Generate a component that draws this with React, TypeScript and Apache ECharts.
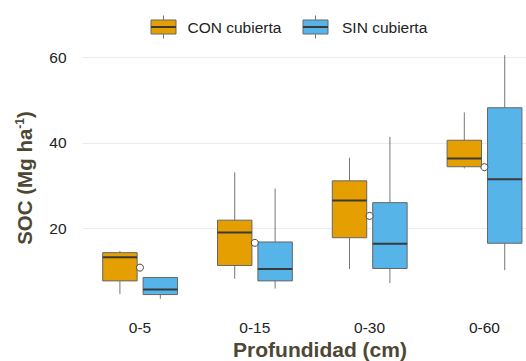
import React, { useEffect, useRef } from "react";
import * as echarts from "echarts";

const categories = ["0-5", "0-15", "0-30", "0-60"];
const conLow = [4.6, 8.2, 10.5, 34.0];
const conQ1 = [7.7, 11.3, 17.8, 34.4];
const conMed = [13.2, 19.0, 26.5, 36.3];
const conQ3 = [14.3, 21.9, 31.1, 40.6];
const conHigh = [14.7, 33.1, 36.5, 47.1];
const sinLow = [3.5, 5.9, 7.2, 10.2];
const sinQ1 = [4.5, 7.7, 10.6, 16.5];
const sinMed = [5.7, 10.5, 16.4, 31.5];
const sinQ3 = [8.5, 16.8, 26.0, 48.2];
const sinHigh = [8.5, 29.3, 41.4, 60.5];
const means = [10.8, 16.6, 22.9, 34.3];
const yTicks = [0, 20, 40, 60];
const seriesNames = ["CON cubierta", "SIN cubierta"];

const CON_COLOR = "#E69F00";
const SIN_COLOR = "#56B4E9";
const BORDER = "#666666";
const MEDIAN = "#3a3a3a";
const WHISKER = "#777777";
const TITLE_COLOR = "#4d4833";
const FONT = "'Liberation Sans', Arial, sans-serif";

function makeRender(color: string, offsetFrac: number, boxFrac: number) {
  return (params: any, api: any) => {
    const cat = api.value(0);
    const band = api.size([1, 0])[0];
    const cx = api.coord([cat, 0])[0] + offsetFrac * band;
    const half = (boxFrac * band) / 2;
    const yy = (i: number) => api.coord([cat, api.value(i)])[1];
    const yLow = yy(1), yQ1 = yy(2), yMed = yy(3), yQ3 = yy(4), yHigh = yy(5);
    return {
      type: "group",
      children: [
        { type: "line", shape: { x1: cx, y1: yHigh, x2: cx, y2: yQ3 }, style: { stroke: WHISKER, lineWidth: 1 } },
        { type: "line", shape: { x1: cx, y1: yQ1, x2: cx, y2: yLow }, style: { stroke: WHISKER, lineWidth: 1 } },
        {
          type: "rect",
          shape: { x: cx - half, y: yQ3, width: half * 2, height: yQ1 - yQ3 },
          style: { fill: color, stroke: BORDER, lineWidth: 1 },
        },
        {
          type: "line",
          shape: { x1: cx - half, y1: yMed, x2: cx + half, y2: yMed },
          style: { stroke: MEDIAN, lineWidth: 2 },
        },
      ],
    };
  };
}

function legendItem(x: number, textX: number, color: string, label: string) {
  const w = 25, top = 20, h = 14, cx = x + w / 2;
  return {
    type: "group",
    children: [
      { type: "line", shape: { x1: cx, y1: 15.5, x2: cx, y2: top }, style: { stroke: WHISKER, lineWidth: 1 } },
      { type: "line", shape: { x1: cx, y1: top + h, x2: cx, y2: 38.5 }, style: { stroke: WHISKER, lineWidth: 1 } },
      { type: "rect", shape: { x, y: top, width: w, height: h }, style: { fill: color, stroke: BORDER, lineWidth: 1 } },
      { type: "line", shape: { x1: x, y1: top + h / 2, x2: x + w, y2: top + h / 2 }, style: { stroke: MEDIAN, lineWidth: 2 } },
      {
        type: "text",
        x: textX,
        y: 27,
        style: { text: label, fill: "#222", font: `15.5px ${FONT}`, textAlign: "left", textVerticalAlign: "middle" },
      },
    ],
  };
}

export default function App() {
  const ref = useRef<HTMLDivElement>(null);
  useEffect(() => {
    if (!ref.current) return;
    const chart = echarts.init(ref.current, null, { renderer: "svg" });
    const conData = categories.map((_, i) => [i, conLow[i], conQ1[i], conMed[i], conQ3[i], conHigh[i]]);
    const sinData = categories.map((_, i) => [i, sinLow[i], sinQ1[i], sinMed[i], sinQ3[i], sinHigh[i]]);
    chart.setOption({
      animation: false,
      backgroundColor: "#ffffff",
      grid: { left: 82.6, right: -15.8, top: 57.3, bottom: 47.2, containLabel: false, outerBoundsMode: "none" },
      xAxis: {
        type: "category",
        data: categories,
        boundaryGap: true,
        axisLine: { show: false },
        axisTick: { show: false },
        axisLabel: { color: "#222", fontSize: 15.5, fontFamily: FONT, margin: 6, interval: 0 },
        splitLine: { show: false },
      },
      yAxis: {
        type: "value",
        min: yTicks[0],
        max: yTicks[yTicks.length - 1],
        interval: 20,
        axisLine: { show: false },
        axisTick: { show: false },
        axisLabel: { color: "#222", fontSize: 15.5, fontFamily: FONT, margin: 16, showMinLabel: false },
        splitLine: { show: true, showMinLine: false, lineStyle: { color: "#ececec", width: 1 } },
      },
      series: [
        {
          name: seriesNames[0],
          type: "custom",
          data: conData,
          encode: { x: 0, y: [1, 2, 3, 4, 5] },
          renderItem: makeRender(CON_COLOR, -0.175, 0.3),
          clip: false,
          z: 2,
        },
        {
          name: seriesNames[1],
          type: "custom",
          data: sinData,
          encode: { x: 0, y: [1, 2, 3, 4, 5] },
          renderItem: makeRender(SIN_COLOR, 0.177, 0.3),
          clip: false,
          z: 2,
        },
        {
          name: "Media",
          type: "scatter",
          data: means.map((m, i) => [i, m]),
          symbol: "circle",
          symbolSize: 7,
          itemStyle: { color: "#ffffff", borderColor: "#444", borderWidth: 1, opacity: 1 },
          z: 5,
        },
      ],
      graphic: [
        legendItem(151, 187.5, CON_COLOR, seriesNames[0]),
        legendItem(303, 342, SIN_COLOR, seriesNames[1]),
        {
          type: "text",
          x: 320,
          y: 349.5,
          style: {
            text: "Profundidad (cm)",
            fill: TITLE_COLOR,
            font: `bold 21px ${FONT}`,
            textAlign: "center",
            textVerticalAlign: "middle",
          },
        },
        {
          type: "text",
          x: 24,
          y: 178,
          rotation: Math.PI / 2,
          style: {
            text: "{a|SOC (Mg ha}{s|-1}{a|)}",
            textAlign: "center",
            textVerticalAlign: "middle",
            rich: {
              a: { fontSize: 20.5, fontWeight: "bold", fontFamily: FONT, fill: TITLE_COLOR, color: TITLE_COLOR },
              s: { fontSize: 12, fontWeight: "bold", fontFamily: FONT, fill: TITLE_COLOR, color: TITLE_COLOR, verticalAlign: "top" },
            },
          },
        },
      ],
    });
    return () => chart.dispose();
  }, []);
  return (
    <div
      ref={ref}
      style={{ position: "fixed", left: 0, top: 0, width: 526, height: 361 }}
    />
  );
}
